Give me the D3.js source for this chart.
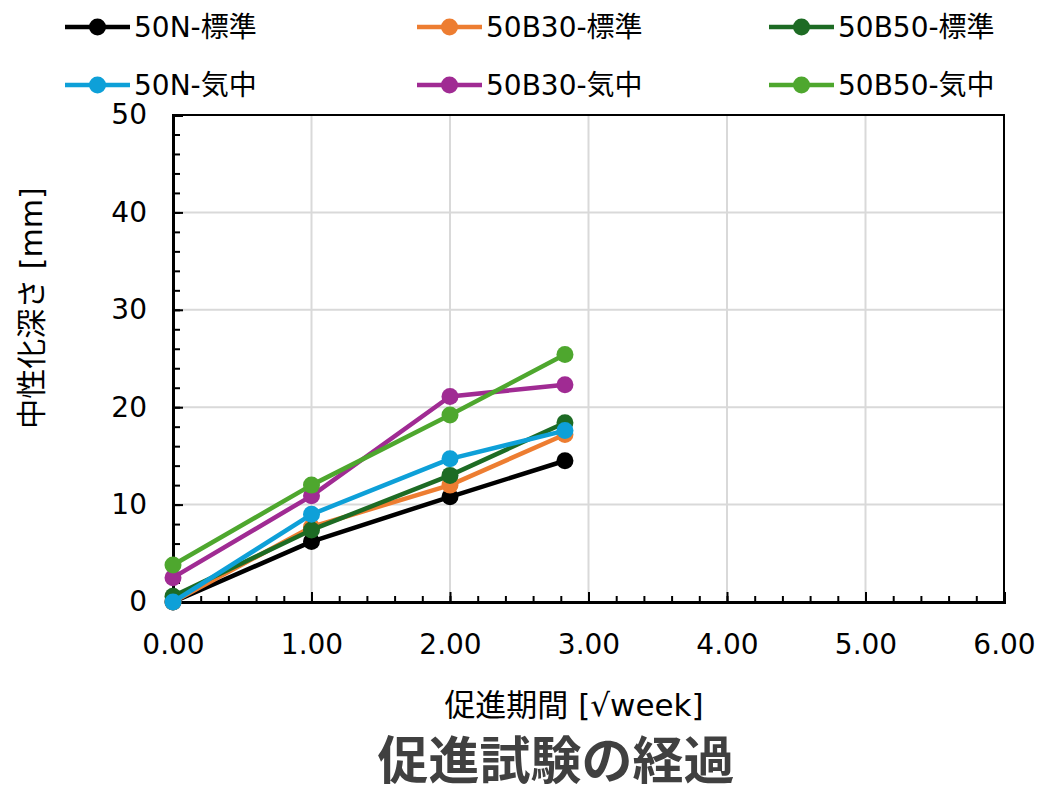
<!DOCTYPE html>
<html>
<head>
<meta charset="utf-8">
<script src="https://cdn.jsdelivr.net/npm/d3@7"></script>
<style>
  body { margin: 0; background: #fff; }
  text { font-family: "DejaVu Sans", "Noto Sans CJK JP", sans-serif; }
</style>
</head>
<body>
<div id="chartArea"></div>
<script>
// Data
let weeks = [0, 1, 2, 2.83];
let seriesNames = ['50N-標準', '50B30-標準', '50B50-標準', '50N-気中', '50B30-気中', '50B50-気中'];
let seriesColors = ['#000000', '#ED7D31', '#1D6B24', '#0EA0D8', '#A02B93', '#4EA72E'];
let n50Std = [0, 6.2, 10.8, 14.5];
let b30Std = [0, 7.7, 12.0, 17.2];
let b50Std = [0.6, 7.4, 13.0, 18.4];
let n50Air = [0, 9.0, 14.7, 17.6];
let b30Air = [2.5, 10.9, 21.1, 22.3];
let b50Air = [3.8, 12.0, 19.2, 25.4];
let xTicks = [0, 1, 2, 3, 4, 5, 6];
let yTicks = [0, 10, 20, 30, 40, 50];

let allSeries = [n50Std, b30Std, b50Std, n50Air, b30Air, b50Air];

let margins = { top: 115, right: 35, bottom: 191, left: 173 };
let svgWidth = 1039 - margins.left - margins.right,
    svgHeight = 793 - margins.top - margins.bottom;

let svg = d3.select('#chartArea')
    .append('svg')
        .attr('width', 1039)
        .attr('height', 793);

let chart = svg.append('g')
    .attr('transform', 'translate(' + margins.left + ',' + margins.top + ')');

let xScale = d3.scaleLinear().domain([0, 6]).range([0, svgWidth]);
let yScale = d3.scaleLinear().domain([0, 50]).range([svgHeight, 0]);

// gridlines
chart.append('g').selectAll('line.gx')
    .data(xTicks.slice(1))
    .enter().append('line')
    .attr('x1', d => xScale(d)).attr('x2', d => xScale(d))
    .attr('y1', 0).attr('y2', svgHeight)
    .attr('stroke', '#d9d9d9').attr('stroke-width', 2);
chart.append('g').selectAll('line.gy')
    .data(yTicks.slice(1))
    .enter().append('line')
    .attr('x1', 0).attr('x2', svgWidth)
    .attr('y1', d => yScale(d)).attr('y2', d => yScale(d))
    .attr('stroke', '#d9d9d9').attr('stroke-width', 2);

// frame top / right
chart.append('path')
    .attr('d', 'M0,0H' + svgWidth + 'V' + svgHeight)
    .attr('fill', 'none').attr('stroke', '#000').attr('stroke-width', 2);

// x axis
let xAxis = chart.append('g')
    .attr('transform', 'translate(0,' + svgHeight + ')');
xAxis.call(d3.axisBottom(xScale).tickValues(d3.range(0, 6.01, 0.2)).tickSize(-6).tickFormat(''));
xAxis.append('g').call(d3.axisBottom(xScale).tickValues(xTicks).tickSize(-10).tickPadding(32).tickFormat(d3.format('.2f')));

// y axis
let yAxis = chart.append('g');
yAxis.call(d3.axisLeft(yScale).tickValues(d3.range(0, 50.01, 2)).tickSize(-7).tickFormat(''));
yAxis.append('g').call(d3.axisLeft(yScale).tickValues(yTicks).tickSize(-10).tickPadding(26));

chart.selectAll('.domain').attr('stroke', '#000').attr('stroke-width', 3);
chart.selectAll('.tick line').attr('stroke', '#000').attr('stroke-width', 2);
chart.selectAll('.tick text')
    .attr('font-family', '"DejaVu Sans", sans-serif')
    .attr('font-size', 28)
    .attr('fill', '#000');

// lines and points
let line = d3.line()
    .x((d, i) => xScale(weeks[i]))
    .y(d => yScale(d));

allSeries.forEach((vals, k) => {
    let g = chart.append('g');
    g.append('path')
        .attr('d', line(vals))
        .attr('fill', 'none')
        .attr('stroke', seriesColors[k])
        .attr('stroke-width', 4.5)
        .attr('stroke-linejoin', 'round');
    g.selectAll('circle')
        .data(vals)
        .enter().append('circle')
        .attr('cx', (d, i) => xScale(weeks[i]))
        .attr('cy', d => yScale(d))
        .attr('r', 8.5)
        .attr('fill', seriesColors[k]);
});

// legend
let legend = svg.append('g');
seriesNames.forEach((name, k) => {
    let col = k % 3, row = Math.floor(k / 3);
    let lx = 65 + col * 352, ly = 27 + row * 58;
    let item = legend.append('g').attr('transform', 'translate(' + lx + ',' + ly + ')');
    item.append('line')
        .attr('x1', 0).attr('x2', 65).attr('y1', 0).attr('y2', 0)
        .attr('stroke', seriesColors[k]).attr('stroke-width', 4.5);
    item.append('circle')
        .attr('cx', 32.5).attr('cy', 0).attr('r', 8.5)
        .attr('fill', seriesColors[k]);
    item.append('text')
        .attr('x', 69).attr('y', 0)
        .attr('dy', '0.35em')
        .attr('font-size', 28)
        .attr('fill', '#000')
        .text(name);
});

// axis titles
svg.append('text')
    .attr('x', 574).attr('y', 716)
    .attr('text-anchor', 'middle')
    .attr('font-size', 31)
    .attr('fill', '#000')
    .text('促進期間 [√week]');

svg.append('text')
    .attr('transform', 'translate(42,308) rotate(-90)')
    .attr('text-anchor', 'middle')
    .attr('font-size', 30)
    .attr('fill', '#000')
    .text('中性化深さ [mm]');

// chart title
svg.append('text')
    .attr('x', 556).attr('y', 779)
    .attr('text-anchor', 'middle')
    .attr('font-size', 51)
    .attr('font-weight', 'bold')
    .attr('fill', '#404040')
    .text('促進試験の経過');
</script>
</body>
</html>
